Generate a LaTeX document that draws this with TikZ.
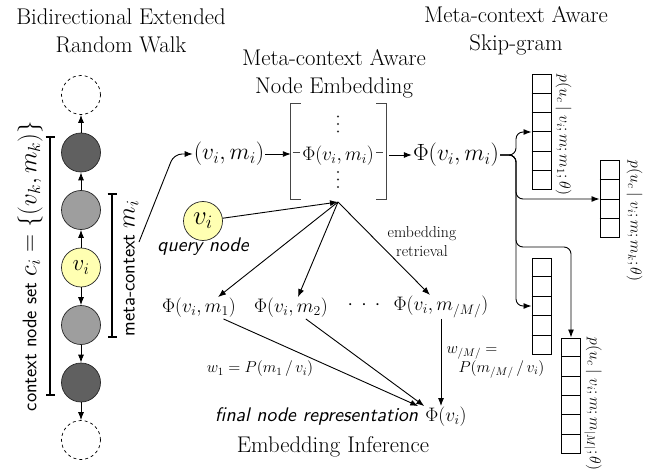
\RequirePackage{fix-cm}
\documentclass[tikz,border=0pt]{standalone}
\usepackage{fontspec}
\newfontfamily\sfobl{lmsans10-oblique.otf}
\usetikzlibrary{arrows.meta,calc}
\definecolor{cdark}{RGB}{96,96,96}
\definecolor{cmid}{RGB}{158,158,158}
\definecolor{cyel}{RGB}{255,255,178}
\definecolor{cbrk}{RGB}{70,70,70}
\newcommand\fTitle{\fontsize{22.7}{28}\selectfont}
\newcommand\fBig{\fontsize{23.5}{28}\selectfont}
\newcommand\fMid{\fontsize{19.5}{24}\selectfont}
\newcommand\fSmall{\fontsize{15.8}{19}\selectfont}
\newcommand\fLab{\fontsize{15.8}{19}\selectfont}
\newcommand\fSans{\sffamily\fontsize{19.7}{24}\selectfont}
\newcommand\fSansIt{\sfobl\fontsize{19.7}{24}\selectfont}
\newcommand\fMathL{\fontsize{25}{30}\selectfont}
\newcommand\fVi{\fontsize{23}{27}\selectfont}
\newcommand\fQv{\fontsize{27}{31}\selectfont}
\newcommand\myhdots{$\cdotp\kern5pt\cdotp\kern5pt\cdotp$}
\begin{document}
\begin{tikzpicture}[x=1pt,y=-1pt,
  walk/.style={circle,draw=black!85,line width=0.7pt,minimum size=39pt,inner sep=0pt},
  ghost/.style={walk,dashed,draw=black},
  arr/.style={-{Latex[length=8pt,width=6pt]},line width=0.9pt},
  brk/.style={{Bar[width=9pt]}-{Bar[width=9pt]},line width=2pt},
  cellbox/.style={draw,line width=1pt,minimum width=19pt,inner sep=0pt},
  mtext/.style={inner sep=1pt}]
\useasboundingbox (0,0) rectangle (647,473);

% titles
\node[align=center,font=\fTitle] (t1) at (121,31) {Bidirectional Extended\\Random Walk};
\node[align=center,font=\fTitle] (t2) at (334,74) {Meta-context Aware\\Node Embedding};
\node[align=center,font=\fTitle] (t3) at (516,31) {Meta-context Aware\\Skip-gram};

% random walk
\node[ghost] (w0) at (81,95) {};
\node[walk,fill=cdark] (w1) at (81,152.5) {};
\node[walk,fill=cmid] (w2) at (81,210) {};
\node[walk,fill=cyel,font=\fVi] (w3) at (81,267.5) {$v_i$};
\node[walk,fill=cmid] (w4) at (81,325) {};
\node[walk,fill=cdark] (w5) at (81,382.5) {};
\node[ghost] (w6) at (81,440) {};
\draw[arr] (w3) -- (w2);
\draw[arr] (w2) -- (w1);
\draw[arr] (w1) -- (w0);
\draw[arr] (w3) -- (w4);
\draw[arr] (w4) -- (w5);
\draw[arr] (w5) -- (w6);

\coordinate (mt) at (112,193); \coordinate (mb) at (112,338);
\draw[brk] (mt) -- (mb);
\coordinate (ct) at (50,136); \coordinate (cb) at (50,396);
\draw[brk] (ct) -- (cb);
\node[rotate=90] (lmeta) at (131,268.5) {{\fSans meta-context }{\fMathL$m_i$}};
\node[rotate=90] (lctx) at (30,266) {{\fSans context node set }{\fMathL$c_i=\{(v_k,m_k)\}$}};

% middle
\node[font=\fBig,mtext] (vm) at (229,154) {$(v_i,m_i)$};
\coordinate (lstart) at (139,242); \coordinate (lbend) at (174,154);
\draw[arr,rounded corners=8pt] (lstart) -- (lbend) -- (vm.west);

\node[minimum width=95pt,minimum height=95pt,inner sep=0pt] (mat) at (338.5,151.5) {};
\draw[cbrk,line width=1.2pt] ([xshift=10pt]mat.north west) -- (mat.north west) -- (mat.south west) -- ([xshift=10pt]mat.south west);
\draw[cbrk,line width=1.2pt] ([xshift=-10pt]mat.north east) -- (mat.north east) -- (mat.south east) -- ([xshift=-10pt]mat.south east);
\node[font=\fMid,inner sep=0pt] (mphi) at (338,156) {$\Phi(v_i,m_i)$};
\foreach \yy in {116.5,124,131.5,172,179.5,187}
  \fill[black!80] (338,\yy) circle[radius=1.2pt];
\draw[cbrk,line width=1pt] (292.5,153) -- (299.5,153);
\draw[cbrk,line width=1pt] (376,153) -- (383,153);
\draw[arr] (vm.east) -- (vm.east -| mat.west);

\node[font=\fBig,mtext] (phiR) at (456,155) {$\Phi(v_i,m_i)$};
\coordinate (mE) at ([xshift=3pt]mat.east);
\draw[arr] (mE |- phiR.west) -- (phiR.west);

% skip-gram boxes
\node[cellbox,minimum height=114pt] (b1) at (541.5,132) {};
\node[cellbox,minimum height=76pt] (b2) at (609.5,199) {};
\node[cellbox,minimum height=96pt] (b3) at (541.5,306) {};
\node[cellbox,minimum height=115pt] (b4) at (571,395.5) {};
\foreach \b/\n in {b1/6,b2/4,b3/5,b4/6}{
  \pgfmathtruncatemacro\m{\n-1}
  \foreach \k in {1,...,\m}{
    \draw[line width=1pt] ($(\b.north west)!\k/\n!(\b.south west)$) -- ($(\b.north east)!\k/\n!(\b.south east)$);
  }
}
\coordinate (jx) at (516,155);
\coordinate (k4) at (571,247);
\draw[arr,rounded corners=7pt] (phiR.east) -- (jx) -- (jx |- b1.west) -- (b1.west);
\draw[arr,rounded corners=7pt] (phiR.east) -- (jx) -- (jx |- b2.west) -- (b2.west);
\draw[arr,rounded corners=7pt] (phiR.east) -- (jx) -- (jx |- k4) -- (k4) -- (b4.north);
\draw[arr,rounded corners=7pt] (phiR.east) -- (jx) -- (jx |- b3.west) -- (b3.west);

\node[rotate=-90,anchor=west,inner sep=0pt,font=\fLab] (l1) at ([xshift=12pt]b1.north east) {$p(u_c\mid v_i;m;m_1;\theta)$};
\node[rotate=-90,anchor=west,inner sep=0pt,font=\fLab] (l2) at ([xshift=15pt]b2.north east) {$p(u_c\mid v_i;m;m_k;\theta)$};
\node[rotate=-90,anchor=west,inner sep=0pt,font=\fLab] (l4) at ([xshift=12pt]b4.north east) {$p(u_c\mid v_i;m;m_{|M|};\theta)$};

% query and inference
\node[walk,fill=cyel,font=\fQv] (qv) at (203,221) {$v_i$};
\node[font=\fSansIt] (ql) at (203,247) {query node};
\coordinate (hub) at (338,202);
\draw[arr] (qv) -- (hub);

\node[font=\fMid,mtext] (p1) at (199,308) {$\Phi(v_i,m_1)$};
\node[font=\fMid,mtext] (p2) at (291,308) {$\Phi(v_i,m_2)$};
\node[font=\fMid,mtext] (pd) at (364,305) {\myhdots};
\node[font=\fMid,mtext] (pM) at (441,307) {$\Phi(v_i,m_{/M/})$};
\draw[arr] (hub) -- ([xshift=19pt]p1.north);
\draw[arr] (hub) -- ([xshift=7pt]p2.north);
\draw[arr] (hub) -- ([xshift=-11pt]pM.north);
\node[font=\fSmall,align=center] (er) at (422,242) {embedding\\retrieval};

\node[font=\fMid,mtext] (fin) at (446,417) {$\Phi(v_i)$};
\node[font=\fSansIt,anchor=base east,inner sep=0pt] (fl) at ([xshift=-6pt]fin.base west) {final node representation};
\node[font=\fTitle] (ei) at (333,447) {Embedding Inference};
\draw[arr] (p1) -- ([xshift=-6pt]fin.north west);
\draw[arr] (p2) -- (fin.north west);
\draw[arr] (pM.south) -- (pM.south |- fin.north);

\node[font=\fSmall] (wl1) at (260,369) {$w_1=P(m_1\,/\,v_i)$};
\node[font=\fSmall,align=left,anchor=north west] (wlM) at (443,343) {$w_{/M/}=$\\\hspace*{12pt}$P(m_{/M/}\,/\,v_i)$};
\end{tikzpicture}
\end{document}
